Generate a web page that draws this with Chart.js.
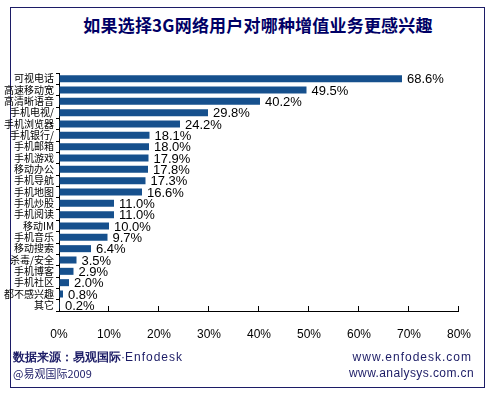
<!DOCTYPE html>
<html>
<head>
<meta charset="UTF-8">
<title>3G增值业务</title>
<script src="https://cdn.jsdelivr.net/npm/chart.js@4"></script>
<style>
	*{margin:0; padding:0;}
	body{width:492px; height:397px; background:#fff; position:relative; overflow:hidden; font-family:"Liberation Sans", Arial, sans-serif;}
	#frame{position:absolute; left:10px; top:7px; width:473px; height:379px; border:1px solid #1c1c66;}
	#title{position:absolute; left:0; width:516px; top:13px; text-align:center; font:bold 17px "Noto Sans CJK SC", sans-serif; color:#000066; line-height:24px; letter-spacing:0.2px;}
	.foot{position:absolute; font-size:12px; color:#1c1c66; line-height:14px; white-space:nowrap;}
	canvas{position:absolute; left:0; top:0;}
</style>
<script>
	// 数据
	const categories = ["可视电话", "高速移动宽", "高清晰语音", "手机电视/", "手机浏览器", "手机银行/", "手机邮箱",
		"手机游戏", "移动办公", "手机导航", "手机地图", "手机炒股", "手机阅读", "移动IM", "手机音乐",
		"移动搜索", "杀毒/安全", "手机博客", "手机社区", "都不感兴趣", "其它"];
	const values = [68.6, 49.5, 40.2, 29.8, 24.2, 18.1, 18.0, 17.9, 17.8, 17.3, 16.6, 11.0, 11.0, 10.0, 9.7,
		6.4, 3.5, 2.9, 2.0, 0.8, 0.2];
	const tickLabels = ["0%", "10%", "20%", "30%", "40%", "50%", "60%", "70%", "80%"];
</script>
</head>
<body>
	<div id="frame"></div>
	<div id="title">如果选择3G网络用户对哪种增值业务更感兴趣</div>
	<canvas id="myChart" width="492" height="397"></canvas>
	<div class="foot" style="left:13px; top:350px;"><b>数据来源：易观国际</b>·<span style="letter-spacing:1px">Enfodesk</span></div>
	<div class="foot" style="left:13px; top:366px; font-family:'Noto Sans CJK SC',sans-serif; font-size:11px;">@易观国际2009</div>
	<div class="foot" style="right:20px; top:350px; letter-spacing:1px;">www.enfodesk.com</div>
	<div class="foot" style="right:18px; top:366px; letter-spacing:0.4px;">www.analysys.com.cn</div>
<script>
	// 数值标签
	const valueLabels = {
		id: 'valueLabels',
		afterDatasetsDraw(chart) {
			const ctx = chart.ctx;
			const meta = chart.getDatasetMeta(0);
			ctx.save();
			ctx.font = '13px "Liberation Sans", Arial, sans-serif';
			ctx.fillStyle = '#000';
			ctx.textBaseline = 'middle';
			meta.data.forEach(function(bar, i){
				ctx.fillText(values[i].toFixed(1) + '%', bar.x + 5, bar.y + 1);
			});
			ctx.restore();
		}
	};

	new Chart(document.getElementById('myChart'), {
		type: 'bar',
		data: {
			labels: categories,
			datasets: [{
				data: values,
				backgroundColor: '#16508d',
				barPercentage: 0.62,
				categoryPercentage: 1
			}]
		},
		options: {
			indexAxis: 'y',
			responsive: false,
			animation: false,
			layout: {padding: {left: 0, right: 27, top: 73, bottom: 46}},
			plugins: {legend: {display: false}, tooltip: {enabled: false}},
			scales: {
				x: {
					min: 0, max: 80,
					afterFit: function(s){ s.height = 40; },
					afterBuildTicks: function(s){ s.ticks = tickLabels.map(function(t){ return {value: parseFloat(t)}; }); },
					ticks: {
						padding: 21,
						color: '#000',
						font: {size: 12, family: '"Liberation Sans", Arial, sans-serif'},
						callback: function(v, i){ return tickLabels[i]; }
					},
					grid: {drawOnChartArea: false, tickLength: -5, color: '#000'},
					border: {color: '#000'}
				},
				y: {
					afterFit: function(s){ s.width = 59; },
					ticks: {
						padding: 2,
						color: '#000',
						autoSkip: false,
						font: {size: 10, family: '"Noto Sans CJK SC", sans-serif'}
					},
					grid: {drawOnChartArea: false, tickLength: 3, color: '#000'},
					border: {color: '#000'}
				}
			}
		},
		plugins: [valueLabels]
	});
</script>
</body>
</html>
